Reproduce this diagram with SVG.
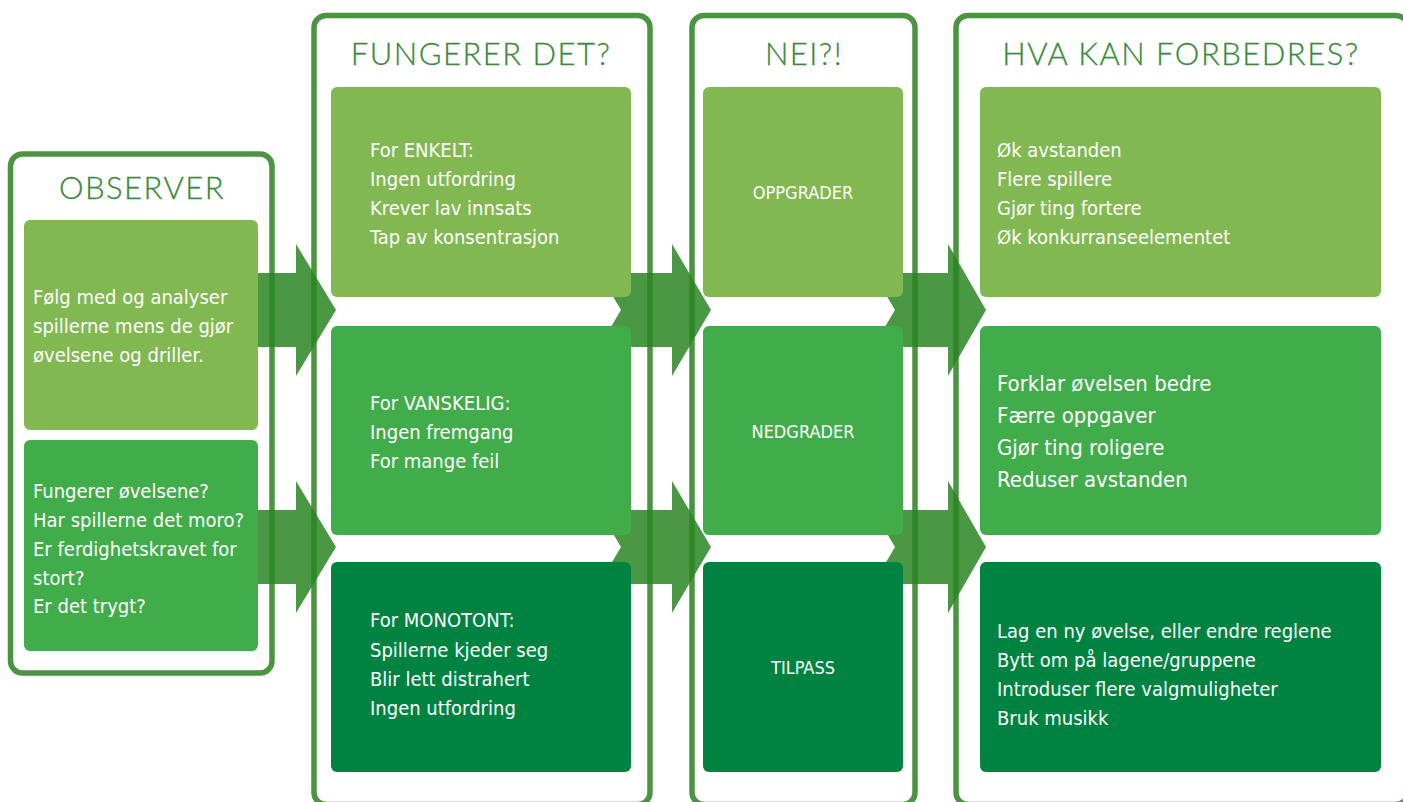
<svg xmlns="http://www.w3.org/2000/svg" width="1403" height="802" viewBox="0 0 1403 802">
  <style>
    .frame { fill: #ffffff; stroke: #4a9442; stroke-width: 5.5; }
    .title { font-family: Lato, "Open Sans", sans-serif; font-weight: 300; font-size: 31px; letter-spacing: 1.5px; fill: #3a8a3a; stroke: #3a8a3a; stroke-width: 0.3px; text-anchor: middle; }
    .light { fill: #82b851; }
    .mid { fill: #41ac4a; }
    .dark { fill: #008340; }
    .txt { font-family: "Liberation Sans Narrow", "DejaVu Sans Condensed", "Roboto", sans-serif; fill: #ffffff; }
    .s20 { font-size: 20px; }
    .s22 { font-size: 22px; }
    .lbl { font-size: 18px; text-anchor: middle; }
    .arrow { fill: #2a8523; fill-opacity: 0.85; }
  </style>
  <defs>
    <!-- chevron-tailed block arrow, centred on y=0 -->
    <path id="arrowA" d="M236,-37 H296 V-66 L336,0 L296,66 V37 H236 L258,0 Z"/>
    <path id="arrowB" d="M599,-37 H672 V-66 L711,0 L672,66 V37 H599 L621,0 Z"/>
    <path id="arrowC" d="M873,-37 H948 V-66 L986,0 L948,66 V37 H873 L895,0 Z"/>
  </defs>

  <rect width="1403" height="802" fill="#ffffff"/>

  <!-- column frames -->
  <g id="frames">
    <rect class="frame" x="10.5" y="154" width="261.5" height="519" rx="12"/>
    <rect class="frame" x="314" y="15.5" width="336" height="789" rx="12"/>
    <rect class="frame" x="692" y="15.5" width="223" height="789" rx="12"/>
    <rect class="frame" x="956" y="15.5" width="452" height="789" rx="12"/>
  </g>

  <!-- connectors -->
  <g id="connectors">
    <use href="#arrowA" class="arrow" y="310"/>
    <use href="#arrowA" class="arrow" y="547"/>
    <use href="#arrowB" class="arrow" y="310"/>
    <use href="#arrowB" class="arrow" y="547"/>
    <use href="#arrowC" class="arrow" y="310"/>
    <use href="#arrowC" class="arrow" y="547"/>
  </g>

  <!-- column titles -->
  <g id="titles">
    <text class="title" x="142" y="199">OBSERVER</text>
    <text class="title" x="481" y="65">FUNGERER DET?</text>
    <text class="title" x="804" y="65">NEI?!</text>
    <text class="title" x="1181" y="65">HVA KAN FORBEDRES?</text>
  </g>

  <!-- OBSERVER column -->
  <g id="observe-follow">
    <rect class="light" x="24" y="220" width="234" height="210" rx="6"/>
    <text class="txt s20" x="33" y="304">
      <tspan x="33">Følg med og analyser</tspan>
      <tspan x="33" dy="29">spillerne mens de gjør</tspan>
      <tspan x="33" dy="29">øvelsene og driller.</tspan>
    </text>
  </g>
  <g id="observe-questions">
    <rect class="mid" x="24" y="440" width="234" height="211" rx="6"/>
    <text class="txt s20" x="33" y="498">
      <tspan x="33">Fungerer øvelsene?</tspan>
      <tspan x="33" dy="29">Har spillerne det moro?</tspan>
      <tspan x="33" dy="29">Er ferdighetskravet for</tspan>
      <tspan x="33" dy="28.5">stort?</tspan>
      <tspan x="33" dy="28.5">Er det trygt?</tspan>
    </text>
  </g>

  <!-- FUNGERER DET? column -->
  <g id="too-easy">
    <rect class="light" x="331" y="87" width="300" height="210" rx="6"/>
    <text class="txt s20" x="370" y="157">
      <tspan x="370">For ENKELT:</tspan>
      <tspan x="370" dy="29">Ingen utfordring</tspan>
      <tspan x="370" dy="29">Krever lav innsats</tspan>
      <tspan x="370" dy="28.5">Tap av konsentrasjon</tspan>
    </text>
  </g>
  <g id="too-hard">
    <rect class="mid" x="331" y="326" width="300" height="209" rx="6"/>
    <text class="txt s20" x="370" y="410">
      <tspan x="370">For VANSKELIG:</tspan>
      <tspan x="370" dy="29">Ingen fremgang</tspan>
      <tspan x="370" dy="29">For mange feil</tspan>
    </text>
  </g>
  <g id="too-monotonous">
    <rect class="dark" x="331" y="562" width="300" height="210" rx="6"/>
    <text class="txt s20" x="370" y="627">
      <tspan x="370">For MONOTONT:</tspan>
      <tspan x="370" dy="29.5">Spillerne kjeder seg</tspan>
      <tspan x="370" dy="29">Blir lett distrahert</tspan>
      <tspan x="370" dy="29">Ingen utfordring</tspan>
    </text>
  </g>

  <!-- NEI?! column -->
  <g id="upgrade">
    <rect class="light" x="703" y="87" width="200" height="210" rx="6"/>
    <text class="txt lbl" x="803" y="199">OPPGRADER</text>
  </g>
  <g id="downgrade">
    <rect class="mid" x="703" y="326" width="200" height="209" rx="6"/>
    <text class="txt lbl" x="803" y="438">NEDGRADER</text>
  </g>
  <g id="adjust">
    <rect class="dark" x="703" y="562" width="200" height="210" rx="6"/>
    <text class="txt lbl" x="803" y="674">TILPASS</text>
  </g>

  <!-- HVA KAN FORBEDRES? column -->
  <g id="harder-ideas">
    <rect class="light" x="980" y="87" width="401" height="210" rx="6"/>
    <text class="txt s20" x="997" y="157">
      <tspan x="997">Øk avstanden</tspan>
      <tspan x="997" dy="29">Flere spillere</tspan>
      <tspan x="997" dy="29">Gjør ting fortere</tspan>
      <tspan x="997" dy="28.5">Øk konkurranseelementet</tspan>
    </text>
  </g>
  <g id="easier-ideas">
    <rect class="mid" x="980" y="326" width="401" height="209" rx="6"/>
    <text class="txt s22" x="997" y="391">
      <tspan x="997">Forklar øvelsen bedre</tspan>
      <tspan x="997" dy="32">Færre oppgaver</tspan>
      <tspan x="997" dy="32">Gjør ting roligere</tspan>
      <tspan x="997" dy="32">Reduser avstanden</tspan>
    </text>
  </g>
  <g id="variety-ideas">
    <rect class="dark" x="980" y="562" width="401" height="210" rx="6"/>
    <text class="txt s20" x="997" y="638">
      <tspan x="997">Lag en ny øvelse, eller endre reglene</tspan>
      <tspan x="997" dy="28.5">Bytt om på lagene/gruppene</tspan>
      <tspan x="997" dy="29">Introduser flere valgmuligheter</tspan>
      <tspan x="997" dy="29">Bruk musikk</tspan>
    </text>
  </g>
</svg>
